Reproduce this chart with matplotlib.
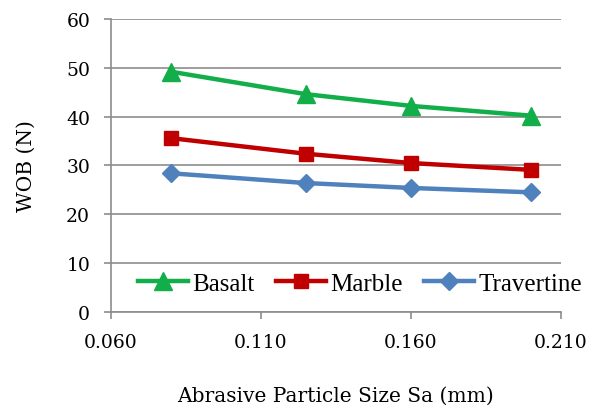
import matplotlib
matplotlib.use("Agg")
import matplotlib.pyplot as plt

# Abrasive particle size (mm) and weight on bit (N) per rock type
sizes = [0.080, 0.125, 0.160, 0.200]
basalt = [49.2, 44.6, 42.2, 40.2]
marble = [35.6, 32.4, 30.5, 29.1]
travertine = [28.4, 26.4, 25.4, 24.5]

x_ticks = [0.060, 0.110, 0.160, 0.210]
y_ticks = [0, 10, 20, 30, 40, 50, 60]

plt.rcParams['font.family'] = ['DejaVu Serif']

fig = plt.figure(figsize=(5.92, 4.10), dpi=100)
ax = fig.add_axes([0.1875, 0.2366, 0.7601, 0.7147])

grid_c = '#8c8c8c'
ax.plot(sizes, basalt, color='#12ae4a', lw=3.2, marker='^', ms=12.5, label='Basalt', zorder=3)
ax.plot(sizes, marble, color='#c00000', lw=3.2, marker='s', ms=10, label='Marble', zorder=3)
ax.plot(sizes, travertine, color='#4f81bd', lw=3.2, marker='D', ms=9, label='Travertine', zorder=3)

ax.set_xlim(0.060, 0.210)
ax.set_ylim(0, 60)
ax.set_xticks(x_ticks)
ax.set_xticklabels([f"{v:.3f}" for v in x_ticks])
ax.set_yticks(y_ticks)
ax.yaxis.grid(True, color=grid_c, lw=1.2)
ax.set_axisbelow(True)

for s in ['top', 'right']:
    ax.spines[s].set_visible(False)
for s in ['left', 'bottom']:
    ax.spines[s].set_color(grid_c)
    ax.spines[s].set_linewidth(1.2)

ax.tick_params(axis='y', direction='out', length=5, color=grid_c, width=1.2, labelsize=13.5, pad=10)
ax.tick_params(axis='x', direction='out', length=5, color=grid_c, width=1.2, labelsize=13.5, pad=10)

ax.set_xlabel('Abrasive Particle Size Sa (mm)', fontsize=14.5, labelpad=25)
ax.set_ylabel('WOB (N)', fontsize=14.5, labelpad=22)

ax.legend(loc='center left', bbox_to_anchor=(0.06, 0.097), ncol=3, frameon=False,
          prop={'family': 'Liberation Serif', 'size': 18},
          handlelength=2.0, columnspacing=0.85, handletextpad=0.18,
          borderpad=0.0, borderaxespad=0.0)

fig.savefig('out.png', dpi=100)
